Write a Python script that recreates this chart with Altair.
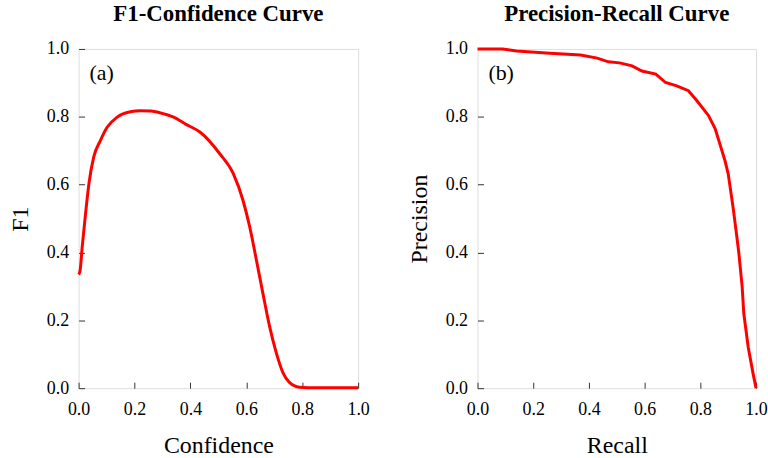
import altair as alt
import pandas as pd

# F1-Confidence curve
conf = [0.0, 0.005, 0.013, 0.025, 0.037, 0.054, 0.078, 0.102, 0.138, 0.185, 0.22, 0.26,
        0.29, 0.34, 0.386, 0.434, 0.505, 0.553, 0.588, 0.612, 0.636, 0.659, 0.683, 0.707,
        0.731, 0.754, 0.79, 0.85, 0.9, 1.0]
f1 = [0.335, 0.345, 0.417, 0.515, 0.603, 0.681, 0.73, 0.769, 0.799, 0.815, 0.818, 0.817,
      0.812, 0.799, 0.777, 0.755, 0.691, 0.633, 0.554, 0.476, 0.378, 0.281, 0.183, 0.105,
      0.046, 0.017, 0.003, 0.001, 0.001, 0.001]

# Precision-Recall curve
recall = [0.0, 0.09, 0.14, 0.26, 0.37, 0.43, 0.47, 0.51, 0.555, 0.59, 0.64, 0.675, 0.715,
          0.757, 0.787, 0.829, 0.853, 0.87, 0.888, 0.90, 0.918, 0.928, 0.938, 0.95, 0.956,
          0.972, 0.99, 1.0]
precision = [1.0, 1.0, 0.994, 0.987, 0.982, 0.973, 0.962, 0.959, 0.95, 0.935, 0.926, 0.901,
             0.891, 0.877, 0.848, 0.804, 0.765, 0.72, 0.672, 0.632, 0.53, 0.466, 0.40, 0.30,
             0.22, 0.12, 0.04, 0.0]

tick_labels = [0.0, 0.2, 0.4, 0.6, 0.8, 1.0]

RED = "#ff0000"
FRAME = "#333333"
FONT = "Liberation Serif"


def make_axis(title, pad, lpad):
    # negative tick size (via expression) draws the ticks inward, into the plot
    return alt.Axis(values=tick_labels, format=".1f", title=title, ticks=True,
                    tickSize={"expr": "-6"}, tickColor=FRAME, tickWidth=1,
                    domain=False, grid=False, labelPadding=lpad, titlePadding=pad,
                    labelFlush=False, labelFont=FONT, labelFontSize=18, labelColor="black",
                    titleFont=FONT, titleFontSize=24, titleFontWeight="normal",
                    titleColor="black")


def panel(df, xcol, ycol, xtitle, ytitle, title, tag, interp, w, h):
    xs = alt.Scale(domain=[0, 1], nice=False, zero=False)
    ys = alt.Scale(domain=[0, 1], nice=False, zero=False)
    xaxis = make_axis(xtitle, 16, 18)
    yaxis = make_axis(ytitle, 14, 16)
    line = alt.Chart(df).mark_line(color=RED, strokeWidth=3, interpolate=interp).encode(
        x=alt.X(f"{xcol}:Q", scale=xs, axis=xaxis),
        y=alt.Y(f"{ycol}:Q", scale=ys, axis=yaxis),
    )
    label = alt.Chart(pd.DataFrame({"s": [tag]})).mark_text(
        font=FONT, fontSize=22, align="left", baseline="middle", color="black"
    ).encode(text="s:N",
             x=alt.datum(0.039, scale=xs, axis=xaxis),
             y=alt.datum(0.928, scale=ys, axis=yaxis))
    return alt.layer(line, label).properties(
        width=w, height=h,
        title=alt.TitleParams(title, font=FONT, fontSize=23, fontWeight="bold", color="black",
                              anchor="middle", offset=14),
    )


df1 = pd.DataFrame({"conf": conf, "f1": f1})
df2 = pd.DataFrame({"recall": recall, "precision": precision})

left = panel(df1, "conf", "f1", "Confidence", "F1", "F1-Confidence Curve", "(a)", "monotone", 281, 341)
right = panel(df2, "recall", "precision", "Recall", "Precision", "Precision-Recall Curve", "(b)", "linear", 280, 341)

chart = alt.hconcat(left, right, spacing=120, bounds="flush").properties(
    padding={"left": 8, "top": 1, "right": 0, "bottom": 0},
    background="white",
).configure_view(
    stroke=FRAME, strokeWidth=1.2
).configure_axis(
    labelFont=FONT, titleFont=FONT
).configure(
    font=FONT
)

chart.save("out.html", embed_options={"renderer": "svg", "actions": False})
